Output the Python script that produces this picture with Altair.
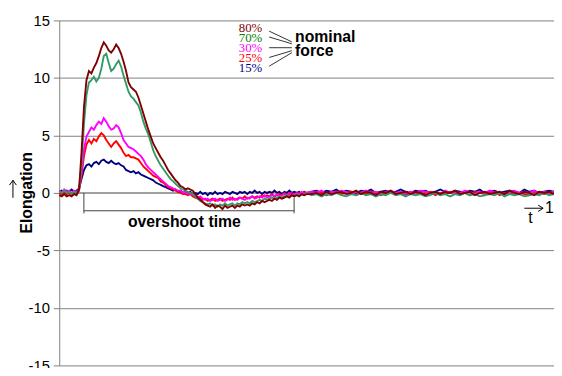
import altair as alt
import pandas as pd

# ---- time grid (fraction of the cycle) ----
TIME = [round(i * 0.005, 3) for i in range(101)] + [round(0.5 + 0.01 * k, 2) for k in range(1, 51)]

# ---- elongation series ----
M80 = [
    -0.2, -0.3, -0.1, -0.3, -0.2, -0.3, -0.1, -0.2,
    0.3, 3.5, 7.5, 9.8, 10.6, 10.4, 10.9, 11.3, 11.9, 12.6,
    13.1, 12.8, 12.4, 12.2, 12.5, 12.9, 12.6, 12.1, 11.4, 10.6,
    9.6, 9.2, 9.0, 8.8, 8.3, 7.6, 6.9, 6.2, 5.5, 4.9,
    4.3, 3.9, 3.5, 3.1, 2.8, 2.4, 2.0, 1.7, 1.4, 1.1,
    0.9, 0.6, 0.5, 0.3, 0.4, 0.3, 0.2, -0.1, -0.4, -0.6,
    -0.8, -1.0, -1.1, -1.2, -1.0, -1.3, -1.1, -1.2, -1.4, -1.1,
    -1.3, -1.2, -1.1, -1.3, -1.1, -1.2, -1.0, -1.1, -1.0, -1.1,
    -0.9, -1.0, -0.8, -0.9, -0.7, -0.8, -0.7, -0.6, -0.7, -0.5,
    -0.6, -0.4, -0.5, -0.4, -0.3, -0.4, -0.2, -0.3, -0.2, -0.3,
    -0.1, -0.2, -0.1,
    -0.1, 0.0, -0.2, 0.1, -0.1, 0.0, 0.1, -0.1, 0.0, 0.2,
    -0.1, 0.1, 0.0, -0.2, 0.1, 0.0, 0.2, -0.1, 0.0, 0.1,
    -0.1, 0.1, 0.0, -0.2, 0.0, 0.1, -0.1, 0.1, 0.0, 0.2,
    -0.1, 0.0, 0.1, -0.2, 0.0, 0.1, -0.1, 0.0, 0.1, -0.1,
    0.2, 0.0, -0.1, 0.1, 0.0, -0.2, 0.1, 0.0, 0.1, -0.1,
]
G70 = [
    0.1, 0.0, 0.2, 0.0, 0.1, -0.1, 0.1, 0.0,
    0.2, 2.5, 6.0, 8.5, 9.6, 9.8, 10.1, 9.7, 10.0, 10.8,
    11.9, 12.1, 11.3, 10.6, 10.8, 11.2, 11.5, 11.0, 10.2, 9.5,
    8.8, 8.4, 8.2, 7.9, 7.6, 7.0, 6.2, 5.6, 5.1, 4.4,
    3.7, 3.2, 2.8, 2.4, 2.1, 1.8, 1.5, 1.2, 1.0, 0.8,
    0.6, 0.4, 0.3, 0.2, 0.1, 0.0, -0.1, -0.3, -0.5, -0.7,
    -0.8, -0.9, -1.0, -0.9, -1.1, -1.0, -1.2, -1.0, -1.1, -0.9,
    -1.1, -1.0, -0.9, -1.1, -0.9, -1.0, -0.8, -0.9, -0.8, -0.9,
    -0.7, -0.8, -0.7, -0.6, -0.7, -0.5, -0.6, -0.5, -0.4, -0.5,
    -0.4, -0.3, -0.4, -0.3, -0.2, -0.3, -0.2, -0.3, -0.1, -0.2,
    -0.1, -0.2, 0.0,
    -0.2, -0.1, -0.3, -0.1, -0.2, 0.0, -0.2, -0.3, -0.1, -0.2,
    0.0, -0.2, -0.1, -0.3, -0.1, -0.2, 0.0, -0.2, -0.1, -0.3,
    -0.1, -0.2, -0.1, -0.3, -0.2, 0.0, -0.2, -0.1, -0.3, -0.1,
    -0.2, 0.0, -0.2, -0.1, -0.3, -0.2, -0.1, -0.2, 0.0, -0.3,
    -0.1, -0.2, -0.1, -0.3, -0.2, -0.1, -0.2, 0.0, -0.2, -0.1,
]
P30 = [
    0.2, 0.0, 0.3, 0.1, 0.2, 0.0, 0.2, 0.1,
    0.3, 1.8, 3.8, 4.9, 5.3, 5.7, 5.5, 5.9, 6.2, 6.0,
    6.5, 6.2, 5.8, 5.5, 5.6, 5.9, 5.7, 5.2, 4.6, 4.3,
    4.0, 3.9, 3.8, 3.6, 3.4, 3.2, 2.9, 2.5, 2.2, 2.0,
    1.8, 1.6, 1.4, 1.2, 1.0, 0.8, 0.6, 0.5, 0.4, 0.3,
    0.2, 0.2, 0.0, 0.1, -0.1, 0.0, -0.2, -0.2, -0.4, -0.3,
    -0.5, -0.6, -0.5, -0.7, -0.6, -0.5, -0.7, -0.6, -0.5, -0.7,
    -0.6, -0.4, -0.6, -0.5, -0.6, -0.4, -0.5, -0.6, -0.4, -0.5,
    -0.3, -0.5, -0.4, -0.3, -0.4, -0.2, -0.4, -0.3, -0.2, -0.3,
    -0.1, -0.3, -0.2, -0.1, -0.2, 0.0, -0.2, -0.1, 0.0, -0.1,
    0.1, -0.1, 0.0,
    0.1, 0.0, 0.2, -0.1, 0.1, 0.0, 0.2, 0.1, -0.1, 0.1,
    0.0, 0.2, 0.0, 0.1, -0.1, 0.1, 0.2, 0.0, 0.1, -0.1,
    0.1, 0.0, 0.2, 0.1, 0.0, 0.1, -0.1, 0.2, 0.0, 0.1,
    0.0, 0.2, 0.1, -0.1, 0.1, 0.0, 0.2, 0.0, 0.1, -0.1,
    0.1, 0.2, 0.0, 0.1, 0.0, 0.2, -0.1, 0.1, 0.0, 0.1,
]
R25 = [
    0.0, -0.2, 0.1, -0.1, 0.0, -0.2, 0.0, -0.1,
    0.2, 1.5, 3.2, 4.2, 4.6, 4.3, 4.7, 4.5, 4.9, 5.2,
    5.0, 4.6, 4.3, 4.0, 4.3, 4.5, 4.2, 3.9, 3.5, 3.2,
    3.3, 3.1, 3.1, 3.0, 2.9, 2.6, 2.3, 2.1, 1.9, 1.7,
    1.5, 1.4, 1.3, 1.0, 0.9, 0.7, 0.5, 0.4, 0.3, 0.2,
    0.1, 0.0, -0.1, -0.1, -0.2, -0.1, -0.3, -0.4, -0.5, -0.4,
    -0.6, -0.5, -0.7, -0.6, -0.5, -0.7, -0.6, -0.5, -0.7, -0.6,
    -0.5, -0.6, -0.4, -0.6, -0.5, -0.4, -0.5, -0.3, -0.5, -0.4,
    -0.3, -0.4, -0.3, -0.4, -0.2, -0.3, -0.2, -0.3, -0.1, -0.3,
    -0.2, -0.1, -0.2, 0.0, -0.2, -0.1, 0.0, -0.2, -0.1, 0.0,
    -0.1, 0.1, -0.1,
    -0.1, 0.1, 0.0, -0.2, 0.0, 0.1, -0.1, 0.0, 0.1, -0.2,
    0.0, -0.1, 0.1, 0.0, -0.2, 0.0, 0.1, -0.1, 0.0, -0.2,
    0.1, 0.0, -0.1, 0.0, 0.1, -0.2, 0.0, -0.1, 0.1, 0.0,
    -0.1, 0.0, -0.2, 0.1, 0.0, -0.1, 0.0, 0.1, -0.2, 0.0,
    -0.1, 0.1, 0.0, -0.1, -0.2, 0.0, 0.1, -0.1, 0.0, -0.1,
]
B15 = [
    0.1, 0.2, 0.0, 0.2, 0.1, 0.3, 0.1, 0.2,
    0.4, 1.2, 2.0, 2.4, 2.5, 2.3, 2.6, 2.7, 2.5, 2.8,
    2.9, 2.7, 2.6, 2.8, 2.6, 2.5, 2.6, 2.4, 2.3, 2.0,
    1.9, 1.8, 1.9, 1.7, 1.8, 1.6, 1.5, 1.4, 1.3, 1.2,
    1.1, 0.9, 0.8, 0.7, 0.6, 0.5, 0.4, 0.3, 0.2, 0.3,
    0.1, 0.2, 0.0, 0.1, 0.0, 0.1, -0.1, 0.0, -0.1, 0.1,
    -0.1, 0.0, -0.2, 0.0, -0.1, 0.1, -0.1, 0.0, -0.1, 0.1,
    0.0, -0.1, 0.1, 0.0, -0.1, 0.1, 0.0, 0.1, -0.1, 0.1,
    0.0, 0.2, 0.0, 0.1, -0.1, 0.1, 0.0, 0.1, 0.0, 0.2,
    0.0, 0.1, -0.1, 0.1, 0.0, 0.2, 0.0, 0.1, 0.0, 0.1,
    -0.1, 0.1, 0.0,
    0.1, 0.2, 0.0, 0.2, 0.1, 0.3, 0.0, 0.2, 0.1, 0.0,
    0.2, 0.1, 0.3, 0.0, 0.1, 0.2, 0.0, 0.1, 0.3, 0.1,
    0.0, 0.2, 0.1, 0.2, 0.0, 0.1, 0.3, 0.1, 0.0, 0.2,
    0.1, 0.0, 0.2, 0.1, 0.3, 0.0, 0.1, 0.2, 0.0, 0.1,
    0.2, 0.1, 0.0, 0.3, 0.1, 0.2, 0.0, 0.1, 0.2, 0.1,
]

LABELS = ["15%", "25%", "30%", "70%", "80%"]
LINE_COLORS = ["#000080", "#ff0000", "#ff00ff", "#339966", "#800000"]
TEXT_COLORS = ["#000080", "#ff0000", "#ff00ff", "#008000", "#800000"]
Y_TICKS = [-15, -10, -5, 0, 5, 10, 15]

# legend block (data coordinates)
LEG_T = 0.3865
LEG_V = [10.51, 11.37, 12.25, 13.11, 13.98]   # baselines for 15%,25%,30%,70%,80%
FAN_T = [0.4243, 0.4701]
FAN_V1 = [11.02, 11.78, 12.63, 13.56, 14.07]
FAN_V2 = [12.20, 12.37, 12.63, 12.97, 13.14]

SANS = "Liberation Sans"
SERIF = "Liberation Serif"

xs = alt.Scale(domain=[0, 1], nice=False, zero=False)
ys = alt.Scale(domain=[-15, 15], nice=False, zero=False)
yaxis = alt.Axis(values=Y_TICKS, grid=True, gridColor="#808080", gridWidth=1,
                 domainColor="#808080", tickColor="#808080", tickSize=6,
                 labelFont=SANS, labelFontSize=15, labelColor="#000000",
                 labelPadding=4, labelOverlap=False, title=None,
                 labelExpr="'' + datum.value")


def X(f):
    return alt.X(f, type="quantitative", scale=xs, axis=None)


def Y(f):
    return alt.Y(f, type="quantitative", scale=ys, axis=yaxis)


layers = []

# zero axis line
zero_df = pd.DataFrame({"v": [0.0]})
layers.append(alt.Chart(zero_df).mark_rule(color="#a0a0a0", strokeWidth=2).encode(y=Y("v")))

# series
series_vals = [B15, R25, P30, G70, M80]
for lab, vals, col in zip(LABELS, series_vals, LINE_COLORS):
    df = pd.DataFrame({"t": TIME, "v": vals})
    layers.append(
        alt.Chart(df).mark_line(color=col, strokeWidth=1.9).encode(x=X("t"), y=Y("v"))
    )

# overshoot bracket
br = pd.DataFrame({
    "x1": [0.0498, 0.0498, 0.4747],
    "x2": [0.4747, 0.0498, 0.4747],
    "y1": [-1.55, 0.0, -0.42],
    "y2": [-1.55, -1.78, -1.78],
})
layers.append(alt.Chart(br).mark_rule(color="#404040", strokeWidth=1).encode(
    x=X("x1"), x2="x2", y=Y("y1"), y2="y2"))

txt = pd.DataFrame({"t": [0.253], "v": [-2.97], "s": ["overshoot time"]})
layers.append(alt.Chart(txt).mark_text(font=SANS, fontSize=16, fontWeight="bold",
                                       align="center", baseline="alphabetic", color="#000000")
              .encode(x=X("t"), y=Y("v"), text="s:N"))

# legend percentages
leg = pd.DataFrame({"t": [LEG_T] * 5, "v": LEG_V, "s": LABELS, "c": TEXT_COLORS})
layers.append(alt.Chart(leg).mark_text(font=SERIF, fontSize=13, align="center",
                                       baseline="alphabetic")
              .encode(x=X("t"), y=Y("v"), text="s:N",
                      color=alt.Color("c:N", scale=None, legend=None)))

# fan lines
fan = pd.DataFrame({"x1": [FAN_T[0]] * 5, "x2": [FAN_T[1]] * 5, "y1": FAN_V1, "y2": FAN_V2})
layers.append(alt.Chart(fan).mark_rule(color="#333333", strokeWidth=1).encode(
    x=X("x1"), x2="x2", y=Y("y1"), y2="y2"))

nf = pd.DataFrame({"t": [0.4767, 0.4767], "v": [13.14, 11.9], "s": ["nominal", "force"]})
layers.append(alt.Chart(nf).mark_text(font=SANS, fontSize=16, fontWeight="bold",
                                      align="left", baseline="alphabetic", color="#000000")
              .encode(x=X("t"), y=Y("v"), text="s:N"))

# time arrow, "t" and "1"
arr = pd.DataFrame({
    "x1": [0.940, 0.968, 0.968],
    "x2": [0.978, 0.978, 0.978],
    "y1": [-1.33, -1.06, -1.61],
    "y2": [-1.33, -1.33, -1.33],
})
layers.append(alt.Chart(arr).mark_rule(color="#000000", strokeWidth=1).encode(
    x=X("x1"), x2="x2", y=Y("y1"), y2="y2"))
tt = pd.DataFrame({"t": [0.956, 0.990], "v": [-2.63, -1.78], "s": ["t", "1"]})
layers.append(alt.Chart(tt).mark_text(font=SANS, fontSize=16, align="left",
                                      baseline="alphabetic", color="#000000", dx=-4)
              .encode(x=X("t"), y=Y("v"), text="s:N"))

# y-axis title with arrow
ya = pd.DataFrame({
    "x1": [-0.0936, -0.1006, -0.0867],
    "x2": [-0.0936, -0.0936, -0.0936],
    "y1": [-0.42, 0.68, 0.68],
    "y2": [1.10, 1.10, 1.10],
})
layers.append(alt.Chart(ya).mark_rule(color="#000000", strokeWidth=1).encode(
    x=X("x1"), x2="x2", y=Y("y1"), y2="y2"))
yt = pd.DataFrame({"t": [-0.0657], "v": [0.0], "s": ["Elongation"]})
layers.append(alt.Chart(yt).mark_text(font=SANS, fontSize=16, fontWeight="bold", angle=270,
                                      align="center", baseline="middle", color="#000000")
              .encode(x=X("t"), y=Y("v"), text="s:N"))

chart = alt.layer(*layers).properties(
    width=502, height=350,
    padding={"left": 52, "top": 10, "right": 0, "bottom": 0},
    autosize=alt.AutoSizeParams(type="none"),
    background="#ffffff",
).configure_view(strokeWidth=0)

chart.save("out.html", embed_options={"renderer": "svg", "actions": False})
